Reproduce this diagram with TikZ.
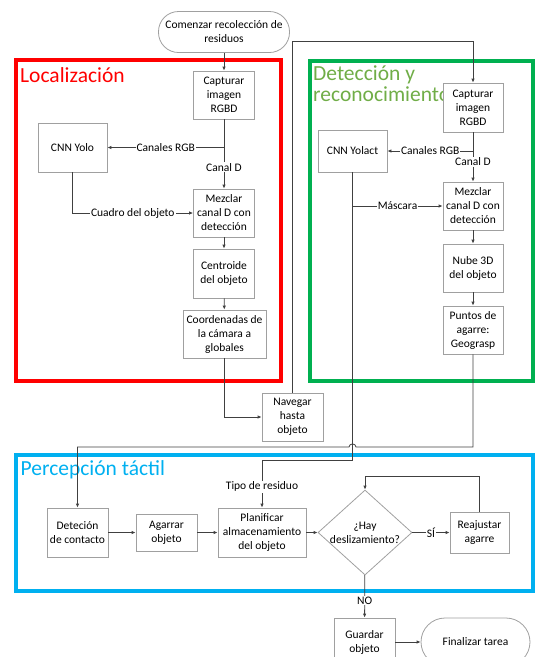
\documentclass[tikz,border=0pt]{standalone}
\usepackage{fontspec}
\setmainfont{Carlito}
\usetikzlibrary{shapes.geometric,arrows.meta}
\definecolor{boxgray}{HTML}{A0A0A0}
\definecolor{linegray}{HTML}{404040}
\definecolor{redF}{HTML}{FF0000}
\definecolor{greenF}{HTML}{00B050}
\definecolor{greenT}{HTML}{70AD47}
\definecolor{blueF}{HTML}{00B0F0}
\tikzset{
  txt/.style={font=\fontsize{11.5}{14}\selectfont},
  procbox/.style={txt,draw=boxgray,line width=0.8pt,fill=white,align=center,inner sep=1pt},
  termbox/.style={procbox,rounded corners=20pt},
  decbox/.style={draw=boxgray,line width=0.8pt,shape=diamond,inner sep=0pt},
  conn/.style={draw=linegray,line width=0.8pt,-{Latex[length=4pt,width=3.5pt]}},
  plain/.style={draw=linegray,line width=0.8pt},
  lbl/.style={txt,fill=white,inner sep=1pt},
  frame/.style={line width=4pt},
  ttl/.style={font=\fontsize{21.5}{21}\selectfont,anchor=base west,align=left,inner sep=0pt}
}
\begin{document}
\begin{tikzpicture}[x=1pt,y=-1pt]
\useasboundingbox (0,0) rectangle (536,657);
% frames
\draw[frame,redF] (15.5,60) rectangle (281,380.5);
\draw[frame,greenF] (310,61) rectangle (533,381);
\draw[frame,blueF] (15.5,454.5) rectangle (533,590.5);
\node[ttl,text=redF] (tl) at (20,82) {Localización};
\node[ttl,text=greenT,anchor=north west] (tg) at (313,65.5) {Detección y\\reconocimiento};
\node[ttl,text=blueF] (tb) at (20.5,475) {Percepción táctil};
% nodes
\node[termbox,minimum width=131pt,minimum height=41pt] (start) at (224,32) {Comenzar recolección de\\residuos};
\node[procbox,minimum width=61pt,minimum height=48pt] (capL) at (224,95) {Capturar\\imagen\\RGBD};
\node[procbox,minimum width=69pt,minimum height=49pt] (yolo) at (72.5,147.5) {CNN Yolo};
\node[procbox,minimum width=61pt,minimum height=48pt] (mezL) at (224,213) {Mezclar\\canal D con\\detección};
\node[procbox,minimum width=61pt,minimum height=49pt] (cent) at (224,273.5) {Centroide\\del objeto};
\node[procbox,minimum width=83pt,minimum height=48pt] (coord) at (224.5,334) {Coordenadas de\\la cámara a\\globales};
\node[procbox,minimum width=61pt,minimum height=48pt] (nav) at (292.5,417) {Navegar\\hasta\\objeto};
\node[procbox,minimum width=60pt,minimum height=49pt] (capG) at (473,107.5) {Capturar\\imagen\\RGBD};
\node[procbox,minimum width=69pt,minimum height=42pt] (yolact) at (352.5,151) {CNN Yolact};
\node[procbox,minimum width=60pt,minimum height=48pt] (mezG) at (473,206) {Mezclar\\canal D con\\detección};
\node[procbox,minimum width=60pt,minimum height=48pt] (nube) at (473,268) {Nube 3D\\del objeto};
\node[procbox,minimum width=60pt,minimum height=48pt] (puntos) at (473,330) {Puntos de\\agarre:\\Geograsp};
\node[procbox,minimum width=61pt,minimum height=49pt] (detec) at (77.5,532.5) {Deteción\\de contacto};
\node[procbox,minimum width=61pt,minimum height=37pt] (agarrar) at (166.5,532.5) {Agarrar\\objeto};
\node[procbox,minimum width=88pt,minimum height=49pt] (plan) at (262,532.5) {Planificar\\almacenamiento\\del objeto};
\node[decbox,minimum width=94pt,minimum height=85pt] (dia) at (365,532.5) {};
\node[txt,align=center,inner sep=0pt] (diat) at (dia.center) {¿Hay\\deslizamiento?};
\node[procbox,minimum width=59pt,minimum height=41pt] (reaj) at (479.5,532.5) {Reajustar\\agarre};
\node[procbox,minimum width=61pt,minimum height=48pt] (guard) at (364.5,642) {Guardar\\objeto};
\node[termbox,minimum width=109pt,minimum height=48pt,rounded corners=24pt] (fin) at (475.5,642) {Finalizar tarea};
% bend coordinates
\coordinate (jRGBL) at (capL.south |- yolo.east);
\coordinate (jCuad) at (yolo.south |- mezL.west);
\coordinate (jCoord) at (coord.south |- nav.west);
\coordinate (jNav1) at (nav.north |- 0,41);
\coordinate (jNav2) at (capG.north |- 0,41);
\coordinate (jRGBG) at (capG.south |- yolact.east);
\coordinate (jMask) at (yolact.south |- mezG.west);
\coordinate (jTipo1) at (yolact.south |- 0,460);
\coordinate (jTipo2) at (plan.north |- 0,460);
\coordinate (jPun1) at (puntos.south |- 0,447);
\coordinate (jBr1) at (356,447);
\coordinate (jBr2) at (349,447);
\coordinate (jPun2) at (detec.north |- 0,447);
\coordinate (jRe1) at (reaj.north |- 0,476);
\coordinate (jRe2) at (dia.north |- 0,476);
% connectors
\draw[conn] (start) -- (capL);
\draw[conn] (capL) -- node[lbl,pos=0.69] {Canal D} (mezL);
\draw[conn] (jRGBL) -- node[lbl] {Canales RGB} (yolo);
\draw[conn] (yolo) -- (jCuad) -- node[lbl] {Cuadro del objeto} (mezL);
\draw[conn] (mezL) -- (cent);
\draw[conn] (cent) -- (coord);
\draw[conn] (coord) -- (jCoord) -- (nav);
\draw[conn] (nav) -- (jNav1) -- (jNav2) -- (capG);
\draw[conn] (capG) -- node[lbl,pos=0.6] {Canal D} (mezG);
\draw[conn] (jRGBG) -- node[lbl] {Canales RGB} (yolact);
\draw[conn] (jMask) -- node[lbl] {Máscara} (mezG);
\draw[conn] (yolact) -- (jTipo1) -- (jTipo2) -- node[lbl,pos=0.56] {Tipo de residuo} (plan);
\draw[conn] (mezG) -- (nube);
\draw[conn] (nube) -- (puntos);
\draw[conn] (puntos) -- (jPun1) -- (jBr1) .. controls (356,443) and (349,443) .. (jBr2) -- (jPun2) -- (detec);
\draw[conn] (detec) -- (agarrar);
\draw[conn] (agarrar) -- (plan);
\draw[conn] (plan) -- (dia);
\draw[conn] (dia) -- node[lbl] {SÍ} (reaj);
\draw[conn] (reaj) -- (jRe1) -- (jRe2) -- (dia);
\draw[conn] (dia) -- node[lbl,pos=0.6] {NO} (guard);
\draw[conn] (guard) -- (fin);
\end{tikzpicture}
\end{document}
